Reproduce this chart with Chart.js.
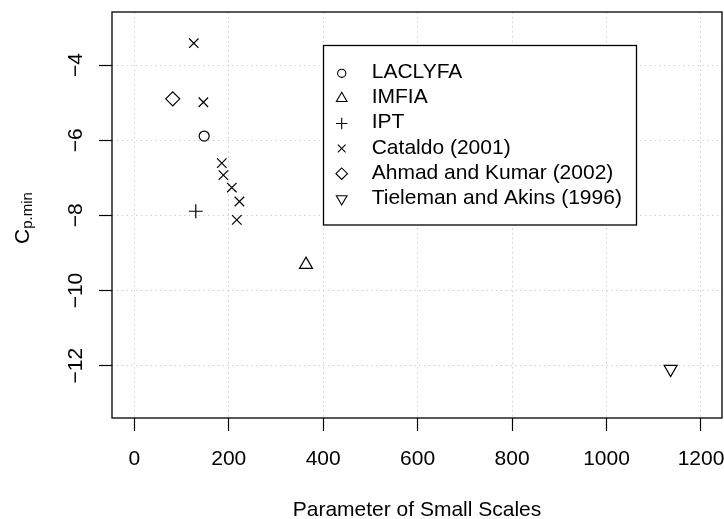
<!DOCTYPE html>
<html>
<head>
<meta charset="utf-8">
<title>Cp.min vs Parameter of Small Scales</title>
<script src="https://cdn.jsdelivr.net/npm/chart.js@4.4.1/dist/chart.umd.min.js"></script>
<style>
	html, body { margin: 0; padding: 0; background: #fff; }
	#wrap { width: 724px; height: 519px; }
</style>
</head>
<body>
<div id="wrap"><canvas id="cp-chart" width="724" height="519"></canvas></div>
<script>
// Data
var seriesNames = ['LACLYFA', 'IMFIA', 'IPT', 'Cataldo (2001)', 'Ahmad and Kumar (2002)', 'Tieleman and Akins (1996)'];

var laclyfaX = [148];
var laclyfaY = [-5.89];

var imfiaX = [363.6];
var imfiaY = [-9.31];

var iptX = [130.2];
var iptY = [-7.89];

var cataldoX = [126, 146.3, 185.3, 188.7, 206.5, 222.6, 217];
var cataldoY = [-3.42, -4.99, -6.61, -6.93, -7.26, -7.63, -8.12];

var ahmadX = [81.4];
var ahmadY = [-4.90];

var tielemanX = [1135.7];
var tielemanY = [-12.09];

var xTicks = [0, 200, 400, 600, 800, 1000, 1200];
var yTicks = [-4, -6, -8, -10, -12];

(function() {
	'use strict';

	var FONT = '"Liberation Sans", Arial, Helvetica, sans-serif';
	var INK = '#000';

	// marker look per series (R pch 1..6)
	var markers = [
		{ style: 'circle', radius: 5, rotation: 0 },
		{ style: 'triangle', radius: 7.5, rotation: 0 },
		{ style: 'cross', radius: 7, rotation: 0 },
		{ style: 'crossRot', radius: 6.7, rotation: 0 },
		{ style: 'rectRot', radius: 7, rotation: 0 },
		{ style: 'triangle', radius: 7.5, rotation: 180 }
	];

	var xs = [laclyfaX, imfiaX, iptX, cataldoX, ahmadX, tielemanX];
	var ys = [laclyfaY, imfiaY, iptY, cataldoY, ahmadY, tielemanY];

	function toPoints(xArr, yArr) {
		return xArr.map(function(x, i) {
			return { x: x, y: yArr[i] };
		});
	}

	var datasets = seriesNames.map(function(name, i) {
		return {
			label: name,
			data: toPoints(xs[i], ys[i]),
			pointStyle: markers[i].style,
			pointRadius: markers[i].radius,
			pointHoverRadius: markers[i].radius,
			pointRotation: markers[i].rotation,
			pointBorderColor: INK,
			pointBackgroundColor: 'rgba(0,0,0,0)',
			pointBorderWidth: 1.2,
			showLine: false
		};
	});

	function fixTicks(list) {
		return function(scale) {
			scale.ticks = list.map(function(v) { return { value: v }; });
		};
	}

	/**
	 * Box, tick labels, axis titles and legend, R style.
	 */
	var rDecor = {
		id: 'rDecor',
		beforeDraw: function(chart) {
			var ctx = chart.ctx;
			ctx.save();
			ctx.fillStyle = '#fff';
			ctx.fillRect(0, 0, chart.width, chart.height);
			ctx.restore();
		},
		afterDraw: function(chart) {
			var ctx = chart.ctx;
			var area = chart.chartArea;
			var xScale = chart.scales.x;
			var yScale = chart.scales.y;

			ctx.save();

			// Plot box
			ctx.strokeStyle = INK;
			ctx.lineWidth = 1.3;
			ctx.strokeRect(area.left, area.top, area.right - area.left, area.bottom - area.top);

			ctx.fillStyle = INK;
			ctx.font = '21px ' + FONT;

			// X tick labels
			ctx.textAlign = 'center';
			ctx.textBaseline = 'alphabetic';
			xTicks.forEach(function(v) {
				ctx.fillText(String(v), xScale.getPixelForValue(v), 465);
			});

			// Y tick labels, rotated
			yTicks.forEach(function(v) {
				var py = yScale.getPixelForValue(v);
				var txt = v < 0 ? '\u2212' + Math.abs(v) : String(v);
				ctx.save();
				ctx.translate(81.5, py);
				ctx.rotate(-Math.PI / 2);
				ctx.textAlign = 'center';
				ctx.fillText(txt, 0, 0);
				ctx.restore();
			});

			// X title
			ctx.textAlign = 'center';
			ctx.fillText('Parameter of Small Scales', (area.left + area.right) / 2, 516);

			// Y title: C with subscript p.min
			ctx.save();
			ctx.font = '21px ' + FONT;
			var wMain = ctx.measureText('C').width;
			ctx.font = '15px ' + FONT;
			var wSub = ctx.measureText('p.min').width;
			var total = wMain + wSub;
			var cy = (area.top + area.bottom) / 2 + 3;
			ctx.translate(28.5, cy + total / 2);
			ctx.rotate(-Math.PI / 2);
			ctx.textAlign = 'left';
			ctx.font = '21px ' + FONT;
			ctx.fillText('C', 0, 0);
			ctx.font = '15px ' + FONT;
			ctx.fillText('p.min', wMain, 3);
			ctx.restore();

			// Legend
			var box = { left: 323.5, top: 45.5, right: 636.5, bottom: 225 };
			ctx.fillStyle = '#fff';
			ctx.fillRect(box.left, box.top, box.right - box.left, box.bottom - box.top);
			ctx.strokeStyle = INK;
			ctx.lineWidth = 1.3;
			ctx.strokeRect(box.left, box.top, box.right - box.left, box.bottom - box.top);

			ctx.fillStyle = INK;
			ctx.font = '21px ' + FONT;
			ctx.textAlign = 'left';
			ctx.textBaseline = 'middle';
			seriesNames.forEach(function(name, i) {
				var rowY = 72.5 + i * 25.1;
				ctx.save();
				ctx.strokeStyle = INK;
				ctx.fillStyle = 'rgba(0,0,0,0)';
				ctx.lineWidth = 1.1;
				Chart.helpers.drawPoint(ctx, {
					pointStyle: markers[i].style,
					radius: markers[i].radius * 0.82,
					rotation: markers[i].rotation,
					borderWidth: 1.1
				}, 341.7, rowY + 0.8);
				ctx.restore();
				ctx.fillText(name, 371.7, rowY);
			});

			ctx.restore();
		}
	};

	var gridStyle = {
		color: '#cfcfcf',
		lineWidth: 1,
		drawTicks: true,
		tickLength: 13,
		tickColor: INK,
		tickWidth: 1.2
	};

	var ctx = document.getElementById('cp-chart').getContext('2d');

	new Chart(ctx, {
		type: 'scatter',
		data: { datasets: datasets },
		options: {
			responsive: false,
			animation: false,
			devicePixelRatio: 1,
			layout: {
				autoPadding: false,
				padding: { top: 12, right: 2, left: 0, bottom: 0 }
			},
			plugins: {
				legend: { display: false },
				tooltip: { enabled: false }
			},
			scales: {
				x: {
					type: 'linear',
					min: -47.2,
					max: 1244.5,
					afterBuildTicks: fixTicks(xTicks),
					afterFit: function(scale) { scale.height = 101; },
					ticks: { display: false },
					grid: gridStyle,
					border: { display: false, dash: [1.5, 3.3] }
				},
				y: {
					type: 'linear',
					min: -13.39,
					max: -2.59,
					afterBuildTicks: fixTicks(yTicks),
					afterFit: function(scale) { scale.width = 112; },
					ticks: { display: false },
					grid: gridStyle,
					border: { display: false, dash: [1.5, 3.3] }
				}
			}
		},
		plugins: [rDecor]
	});
})();
</script>
</body>
</html>
